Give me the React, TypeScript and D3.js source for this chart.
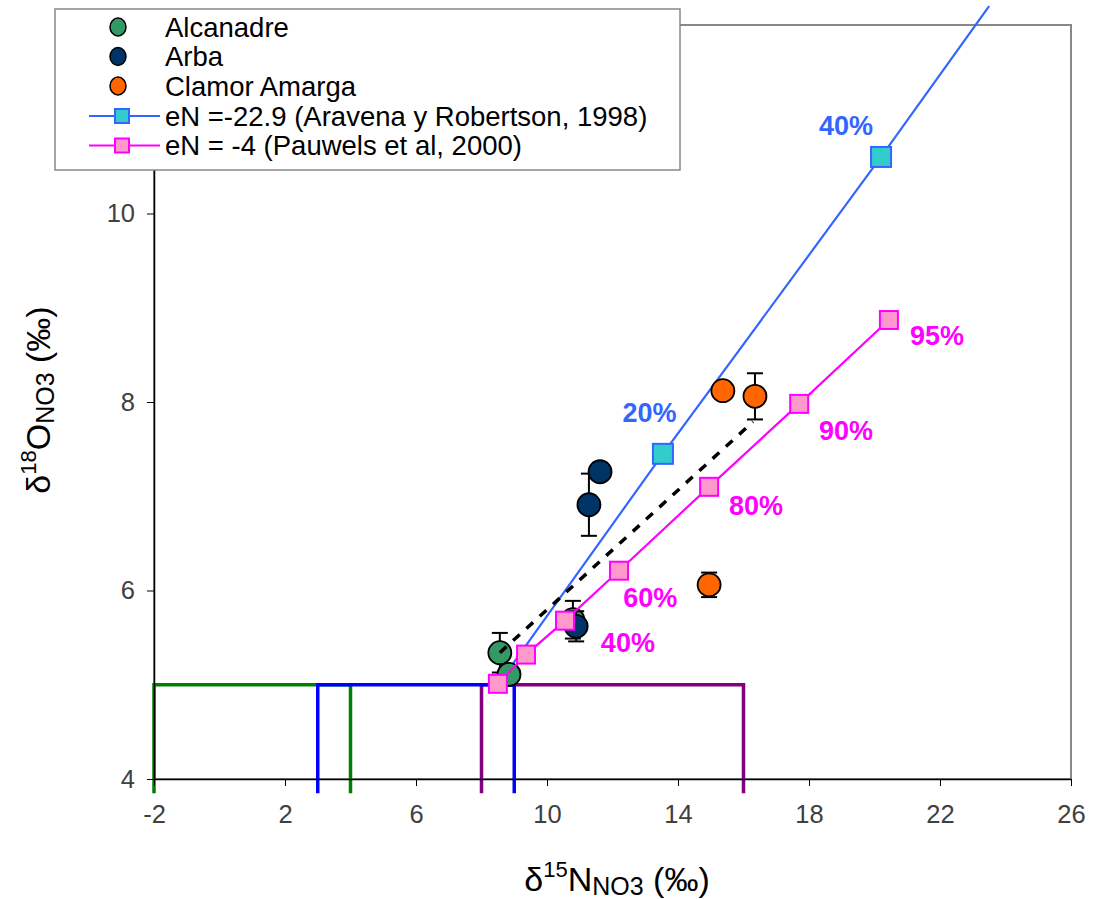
import { useEffect, useRef } from "react";
import * as d3 from "d3";

// scatter data: [d15N, d18O, error]
const alcanadre: [number, number, number][] = [
  [8.56, 5.34, 0.21],
  [8.84, 5.11, 0.03],
  [10.79, 5.69, 0.2],
];
const arba: [number, number, number][] = [
  [10.89, 5.62, 0.16],
  [11.28, 6.91, 0.33],
  [11.62, 7.26, 0.04],
];
const clamor: [number, number, number][] = [
  [15.37, 8.12, 0.05],
  [16.35, 8.06, 0.245],
  [14.95, 6.06, 0.13],
];

// denitrification lines
const aravena: [number, number][] = [
  [8.5, 5.0],
  [13.54, 7.45],
  [20.2, 10.6],
  [23.5, 12.2],
];
const aravenaMarked = [false, true, true, false];
const pauwels: [number, number][] = [
  [8.5, 5.01],
  [9.36, 5.32],
  [10.55, 5.68],
  [12.2, 6.21],
  [14.95, 7.1],
  [17.7, 7.98],
  [20.44, 8.87],
];
const dashed: [number, number][] = [
  [8.56, 5.34],
  [16.29, 7.79],
];

// % labels
const aravenaLabels: [string, number, number][] = [
  ["20%", 13.13, 7.89],
  ["40%", 19.13, 10.93],
];
const pauwelsLabels: [string, number, number][] = [
  ["40%", 12.47, 5.45],
  ["60%", 13.15, 5.93],
  ["80%", 16.38, 6.9],
  ["90%", 19.13, 7.7],
  ["95%", 21.91, 8.7],
];

// source boxes
const boxes: { name: string; x0: number; x1: number; top: number; color: string }[] = [
  { name: "green", x0: -2, x1: 4, top: 5, color: "#008000" },
  { name: "purple", x0: 8, x1: 16, top: 5, color: "#800080" },
  { name: "blue", x0: 3, x1: 9, top: 5, color: "#0000ff" },
];

const xTicks = [-2, 2, 6, 10, 14, 18, 22, 26];
const yTicks = [4, 6, 8, 10];

const W = 1094;
const H = 899;
const m = { left: 154, right: 1071, top: 25, bottom: 779 };

const FONT = "Liberation Sans, Arial, sans-serif";

export default function App() {
  const xAxisRef = useRef<SVGGElement>(null);
  const yAxisRef = useRef<SVGGElement>(null);

  const x = d3.scaleLinear().domain([-2, 26]).range([m.left, m.right]);
  const y = d3.scaleLinear().domain([4, 12]).range([m.bottom, m.top]);

  useEffect(() => {
    d3.select(xAxisRef.current!)
      .call(d3.axisBottom(x).tickValues(xTicks).tickSize(7).tickSizeOuter(0).tickPadding(19).tickFormat(d => String(d)))
      .call(ax => ax.select(".domain").attr("stroke", "#000").attr("stroke-width", 1.5))
      .call(ax => ax.selectAll("line").attr("stroke", "#000"))
      .call(ax => ax.selectAll("text").attr("fill", "#404040").attr("font-size", 25.5).attr("font-family", FONT));
    d3.select(yAxisRef.current!)
      .call(d3.axisLeft(y).tickValues(yTicks).tickSize(7).tickSizeOuter(0).tickPadding(12).tickFormat(d => String(d)))
      .call(ax => ax.select(".domain").attr("stroke", "#000").attr("stroke-width", 1.5))
      .call(ax => ax.selectAll("line").attr("stroke", "#000"))
      .call(ax => ax.selectAll("text").attr("fill", "#404040").attr("font-size", 25.5).attr("font-family", FONT));
  }, []);

  const line = d3.line<[number, number]>().x(d => x(d[0])).y(d => y(d[1]));
  const belowAxis = 3.85;

  const circles = (data: [number, number, number][], fill: string) =>
    data.map((d, i) => (
      <g key={fill + i}>
        <line x1={x(d[0])} x2={x(d[0])} y1={y(d[1] - d[2])} y2={y(d[1] + d[2])} stroke="#000" strokeWidth={2} />
        <line x1={x(d[0]) - 8} x2={x(d[0]) + 8} y1={y(d[1] - d[2])} y2={y(d[1] - d[2])} stroke="#000" strokeWidth={2} />
        <line x1={x(d[0]) - 8} x2={x(d[0]) + 8} y1={y(d[1] + d[2])} y2={y(d[1] + d[2])} stroke="#000" strokeWidth={2} />
        <circle cx={x(d[0])} cy={y(d[1])} r={11.5} fill={fill} stroke="#000" strokeWidth={1.8} />
      </g>
    ));

  const sq = 18;

  return (
    <svg width={W} height={H} style={{ position: "absolute", left: 0, top: 0, background: "#fff" }} fontFamily={FONT}>
      {/* plot frame */}
      <rect x={m.left} y={m.top} width={m.right - m.left} height={m.bottom - m.top} fill="none" stroke="#888" strokeWidth={2} />

      {/* source boxes */}
      {boxes.map(b => (
        <path
          key={b.name}
          d={`M${x(b.x0)},${y(belowAxis)}V${y(b.top)}H${x(b.x1)}V${y(belowAxis)}`}
          fill="none"
          stroke={b.color}
          strokeWidth={3.5}
        />
      ))}

      <g ref={xAxisRef} transform={`translate(0,${m.bottom})`} />
      <g ref={yAxisRef} transform={`translate(${m.left},0)`} />

      {/* Aravena line */}
      <path d={line(aravena)!} fill="none" stroke="#3366ff" strokeWidth={2.2} />

      {/* scatter */}
      {circles(alcanadre, "#339966")}
      {circles(arba, "#003366")}
      {circles(clamor, "#ff6600")}

      {/* Pauwels line */}
      <path d={line(pauwels)!} fill="none" stroke="#ff00ff" strokeWidth={2.2} />
      {pauwels.map((d, i) => (
        <rect key={"p" + i} x={x(d[0]) - sq / 2} y={y(d[1]) - sq / 2} width={sq} height={sq} fill="#ff99cc" stroke="#ff00ff" strokeWidth={2} />
      ))}
      {aravena.map((d, i) =>
        aravenaMarked[i] ? (
          <rect key={"a" + i} x={x(d[0]) - 10} y={y(d[1]) - 10} width={20} height={20} fill="#33cccc" stroke="#3366ff" strokeWidth={2} />
        ) : null
      )}

      {/* mixing line */}
      <path d={line(dashed)!} fill="none" stroke="#000" strokeWidth={3.5} strokeDasharray="9,9" />

      {/* labels */}
      {aravenaLabels.map((l, i) => (
        <text key={"al" + i} x={x(l[1])} y={y(l[2])} dy="0.35em" textAnchor="middle" fontSize={27} fontWeight="bold" fill="#3366ff">
          {l[0]}
        </text>
      ))}
      {pauwelsLabels.map((l, i) => (
        <text key={"pl" + i} x={x(l[1])} y={y(l[2])} dy="0.35em" textAnchor="middle" fontSize={27} fontWeight="bold" fill="#ff00ff">
          {l[0]}
        </text>
      ))}

      {/* axis titles */}
      <text x={617} y={891} textAnchor="middle" fontSize={34} fill="#000">
        δ<tspan fontSize={22} dy={-14}>15</tspan>
        <tspan dy={14}>N</tspan>
        <tspan fontSize={25} dy={4}>NO3</tspan>
        <tspan dy={-4}> (‰)</tspan>
      </text>
      <text transform="translate(50,400) rotate(-90)" textAnchor="middle" fontSize={34} fill="#000">
        δ<tspan fontSize={22} dy={-14}>18</tspan>
        <tspan dy={14}>O</tspan>
        <tspan fontSize={25} dy={4}>NO3</tspan>
        <tspan dy={-4}> (‰)</tspan>
      </text>

      {/* legend */}
      <g>
        <rect x={55} y={9} width={625} height={161} fill="#fff" stroke="#888" strokeWidth={1.5} />
        {[
          { label: "Alcanadre", fill: "#339966" },
          { label: "Arba", fill: "#003366" },
          { label: "Clamor Amarga", fill: "#ff6600" },
        ].map((e, i) => (
          <g key={e.label} transform={`translate(0,${27 + i * 29.5})`}>
            <ellipse cx={118} cy={0} rx={8} ry={9} fill={e.fill} stroke="#000" strokeWidth={1.5} />
            <text x={165} y={0} dy="0.35em" fontSize={27.5} fill="#000">{e.label}</text>
          </g>
        ))}
        {[
          { label: "eN =-22.9 (Aravena y Robertson, 1998)", stroke: "#3366ff", fill: "#33cccc" },
          { label: "eN = -4 (Pauwels et al, 2000)", stroke: "#ff00ff", fill: "#ff99cc" },
        ].map((e, i) => (
          <g key={e.label} transform={`translate(0,${116 + i * 29.5})`}>
            <line x1={89} x2={160} y1={0} y2={0} stroke={e.stroke} strokeWidth={2} />
            <rect x={115} y={-7} width={14} height={14} fill={e.fill} stroke={e.stroke} strokeWidth={2} />
            <text x={165} y={0} dy="0.35em" fontSize={27.5} fill="#000">{e.label}</text>
          </g>
        ))}
      </g>
    </svg>
  );
}
